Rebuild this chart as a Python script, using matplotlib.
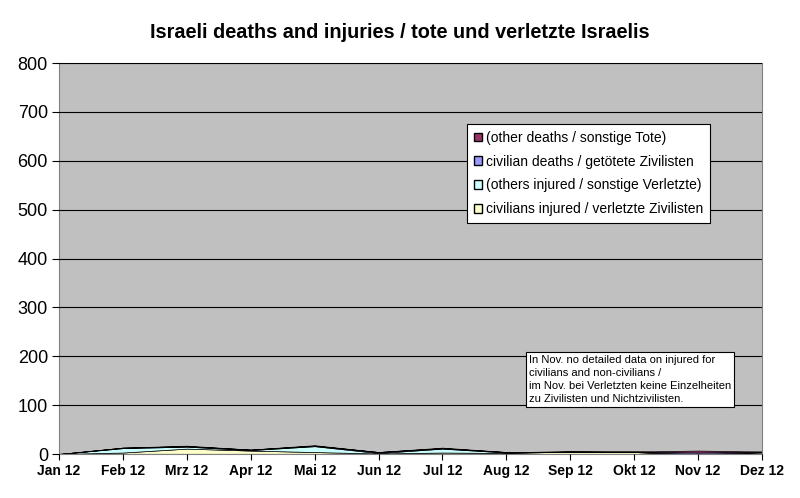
import numpy as np
import matplotlib
matplotlib.use("Agg")
import matplotlib.pyplot as plt
from matplotlib.patches import Patch

plt.rcParams['font.family'] = ['Liberation Sans', 'DejaVu Sans']

months = ['Jan 12', 'Feb 12', 'Mrz 12', 'Apr 12', 'Mai 12', 'Jun 12',
          'Jul 12', 'Aug 12', 'Sep 12', 'Okt 12', 'Nov 12', 'Dez 12']
civilians_injured = [0, 3, 11, 7, 4, 1, 3, 2, 5, 4, 0, 3]
others_injured = [0, 9, 4, 1, 12, 1, 8, 1, 0, 0, 0, 1]
civilian_deaths = [0, 1, 1, 1, 1, 2, 1, 1, 0, 1, 3, 1]
other_deaths = [0, 0, 1, 0, 1, 0, 1, 0, 0, 0, 4, 0]

labels = ['civilians injured / verletzte Zivilisten',
          '(others injured / sonstige Verletzte)',
          'civilian deaths / getötete Zivilisten',
          '(other deaths / sonstige Tote)']
colors = ['#FFFFCC', '#CCFFFF', '#9999FF', '#993366']

fig = plt.figure(figsize=(8, 4.98), dpi=100)
ax = fig.add_axes([59/800, 1 - 454/498, 703/800, 391/498])
ax.set_facecolor('#C0C0C0')

x = np.arange(len(months))
ax.stackplot(x, civilians_injured, others_injured, civilian_deaths, other_deaths,
             colors=colors, edgecolor='black', linewidth=0.5)

ax.set_xlim(0, len(months) - 1)
ax.set_ylim(0, 800)
ax.set_yticks(range(0, 801, 100))
ax.set_xticks(x)
ax.set_xticklabels(months, fontsize=10, fontweight='bold')
ax.tick_params(axis='y', labelsize=13, length=5, pad=3)
ax.tick_params(axis='x', length=4)
ax.yaxis.grid(True, color='black', linewidth=0.8)
ax.set_axisbelow(False)
for s in ['top', 'right', 'left', 'bottom']:
    ax.spines[s].set_color('#808080')

handles = [Patch(facecolor=c, edgecolor='black', label=l) for c, l in zip(colors, labels)]
leg = ax.legend(handles[::-1], labels[::-1], loc='upper left',
                bbox_to_anchor=(0.580, 0.844), fontsize=10, frameon=True,
                fancybox=False, edgecolor='black', framealpha=1,
                handlelength=0.6, handleheight=0.6, handletextpad=0.3,
                labelspacing=0.7, borderpad=0.5, borderaxespad=0)
leg.get_frame().set_linewidth(0.8)

ax.text(0.668, 0.254,
        'In Nov. no detailed data on injured for\ncivilians and non-civilians /\n'
        'im Nov. bei Verletzten keine Einzelheiten\nzu Zivilisten und Nichtzivilisten.',
        transform=ax.transAxes, fontsize=8, va='top', ha='left', linespacing=1.4,
        bbox=dict(boxstyle='square,pad=0.25', facecolor='white', edgecolor='black', linewidth=0.8))

fig.text(0.5, 1 - 32/498, 'Israeli deaths and injuries / tote und verletzte Israelis',
         ha='center', va='center', fontsize=14.3, fontweight='bold')

fig.savefig('out.png', dpi=100)
